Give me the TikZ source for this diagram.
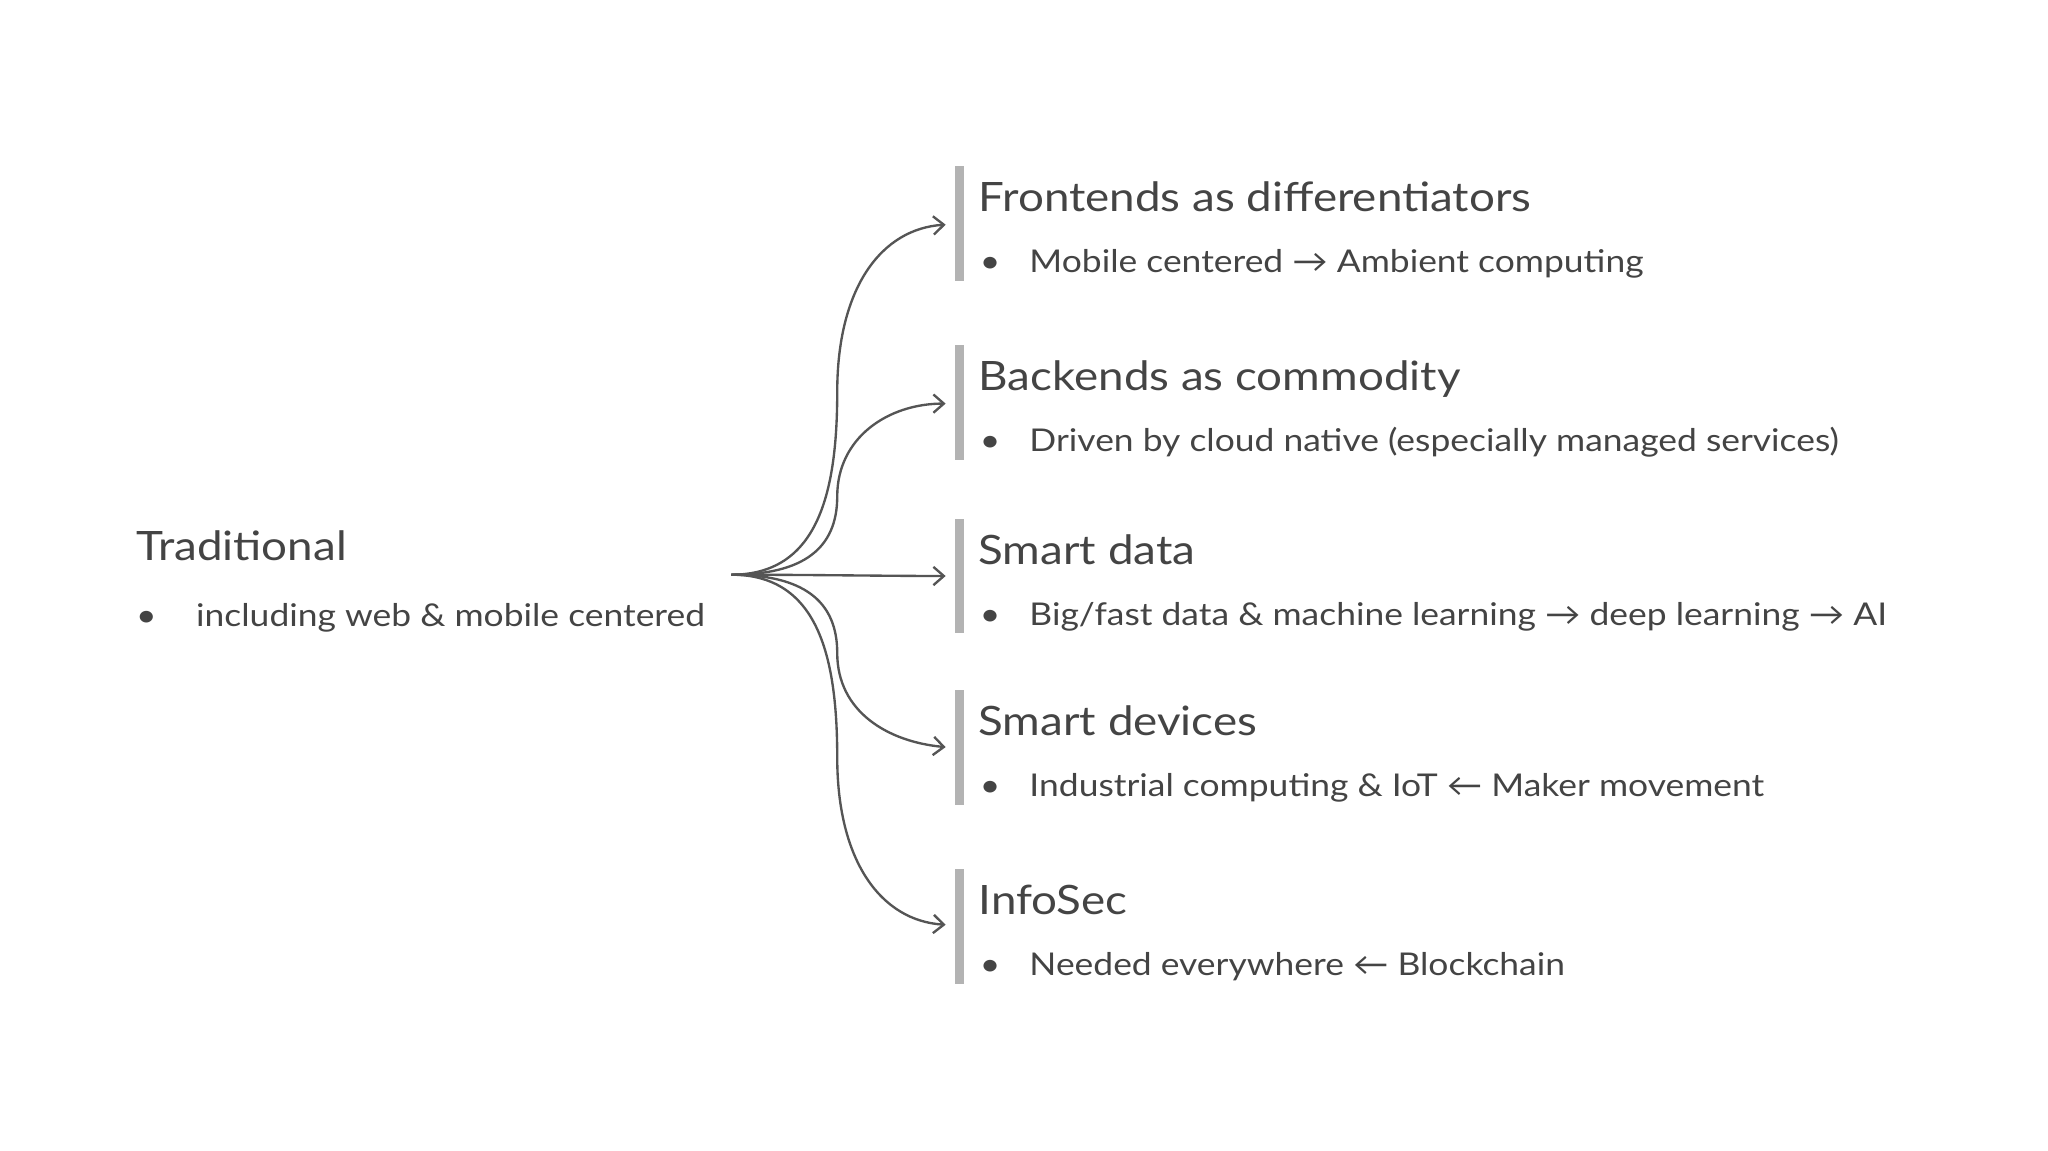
\documentclass[tikz,border=0pt]{standalone}
\usepackage{fontspec}
\setmainfont{Lato}[FakeStretch=1.13]
\usetikzlibrary{arrows.meta}
\definecolor{txt}{HTML}{444444}
\definecolor{bar}{HTML}{B3B3B3}
\definecolor{arr}{HTML}{555555}
\begin{document}
\begin{tikzpicture}[x=1pt,y=-1pt,
  title/.style={anchor=base west,inner sep=0,text=txt,font=\fontsize{31}{36}\selectfont},
  bul/.style={anchor=base west,inner sep=0,text=txt,font=\fontsize{24}{28}\selectfont},
  conn/.style={draw=arr,line width=1.8pt,-{Straight Barb[length=8pt,width=14pt,line width=1.8pt]}}]
\useasboundingbox (0,0) rectangle (1568,881);
\node[title] (trad) at (104,429) {Traditional};
\node[bul] (tb) at (104,480) {\textbullet};
\node[bul] (tt) at (150,480) {including web \& mobile centered};
\coordinate (src) at (560,440);
\foreach \i/\yt/\h/\b in {
 1/127/{Frontends as differentiators}/{Mobile centered → Ambient computing},
 2/264/{Backends as commodity}/{Driven by cloud native (especially managed services)},
 3/397/{Smart data}/{Big{/}fast data \& machine learning → deep learning → AI},
 4/528/{Smart devices}/{Industrial computing \& IoT ← Maker movement},
 5/665/{InfoSec}/{Needed everywhere ← Blockchain}}{
 \fill[bar] (731,\yt) rectangle (738,\yt+88);
 \node[title] (h\i) at (749,\yt+35) {\h};
 \node[bul] (bb\i) at (750,\yt+82) {\textbullet};
 \node[bul] (bt\i) at (788,\yt+82) {\b};
}
\coordinate (t1) at (724,172);
\coordinate (t2) at (724,309);
\coordinate (t3) at (724,441);
\coordinate (t4) at (724,572);
\coordinate (t5) at (724,708);
\draw[conn] (src) .. controls (625,440) and (641,380) .. (641,300) .. controls (641,220) and (675,175) .. (t1);
\draw[conn] (src) .. controls (615,440) and (641,420) .. (641,380) .. controls (641,335) and (680,309) .. (t2);
\draw[conn] (src) .. controls (620,440) and (680,441) .. (t3);
\draw[conn] (src) .. controls (615,440) and (641,460) .. (641,500) .. controls (641,545) and (680,568) .. (t4);
\draw[conn] (src) .. controls (625,440) and (641,500) .. (641,580) .. controls (641,660) and (675,705) .. (t5);
\end{tikzpicture}
\end{document}
